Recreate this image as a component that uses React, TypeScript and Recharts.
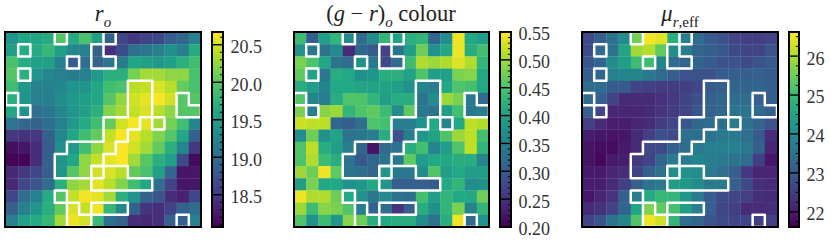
import React from 'react';
import { ScatterChart, Scatter, XAxis, YAxis, ReferenceArea, ReferenceLine } from 'recharts';

const viridis = ['#440154', '#482475', '#414487', '#355f8d', '#2a788e', '#21918c', '#22a884', '#44bf70', '#7ad151', '#bddf26', '#fde725'];

const rValues = [
  [19.40, 19.61, 19.61, 19.66, 19.97, 19.66, 19.92, 19.53, 18.88, 18.62, 18.49, 18.57, 18.62, 18.83, 18.93, 19.19],
  [19.53, 19.66, 19.66, 19.79, 19.53, 19.27, 19.19, 18.88, 18.41, 18.67, 19.01, 19.09, 19.19, 19.35, 19.19, 19.66],
  [19.92, 19.66, 19.53, 19.53, 19.19, 18.83, 19.01, 18.88, 19.09, 19.14, 19.61, 19.53, 19.45, 19.53, 19.71, 19.87],
  [19.97, 19.71, 19.40, 19.27, 19.19, 19.14, 19.19, 19.45, 19.71, 19.71, 20.13, 20.31, 20.31, 20.23, 20.23, 19.92],
  [19.87, 19.45, 19.22, 19.19, 19.27, 19.40, 19.40, 19.61, 19.87, 19.92, 20.39, 20.44, 20.52, 20.39, 20.05, 19.92],
  [19.71, 19.40, 19.19, 19.19, 19.32, 19.45, 19.53, 19.61, 19.97, 20.23, 20.49, 20.57, 20.65, 20.49, 19.97, 19.97],
  [19.61, 19.40, 19.01, 19.09, 19.27, 19.40, 19.53, 19.71, 20.18, 20.31, 20.44, 20.52, 20.39, 20.23, 19.97, 19.97],
  [19.09, 18.93, 18.88, 19.01, 19.19, 19.45, 19.66, 19.87, 20.05, 20.49, 20.65, 20.57, 20.31, 20.13, 19.87, 19.27],
  [18.49, 18.44, 18.49, 18.88, 19.27, 19.61, 19.87, 20.05, 20.44, 20.65, 20.57, 20.39, 20.18, 19.97, 19.61, 18.88],
  [18.18, 18.23, 18.41, 18.83, 19.35, 19.45, 19.87, 20.23, 20.52, 20.65, 20.49, 20.31, 20.05, 19.71, 19.27, 18.49],
  [18.10, 18.10, 18.41, 18.88, 19.40, 19.61, 20.23, 20.44, 20.57, 20.65, 20.31, 19.97, 19.71, 19.53, 18.67, 18.15],
  [18.36, 18.49, 18.62, 18.83, 19.40, 19.97, 20.23, 20.49, 20.52, 20.39, 20.05, 19.92, 19.53, 18.93, 18.23, 18.23],
  [18.36, 18.62, 18.75, 19.01, 19.71, 20.23, 20.31, 20.57, 20.39, 20.18, 19.87, 19.61, 19.01, 18.57, 18.23, 18.23],
  [18.62, 19.01, 19.19, 19.66, 19.97, 20.44, 20.62, 20.57, 20.31, 19.71, 19.40, 18.88, 18.75, 18.41, 18.31, 18.62],
  [18.88, 19.19, 19.40, 19.71, 20.05, 20.52, 20.44, 20.60, 19.79, 19.27, 18.88, 18.46, 18.41, 18.57, 18.88, 19.01],
  [19.19, 19.53, 19.66, 19.79, 20.31, 20.60, 20.49, 19.82, 19.01, 18.88, 18.41, 18.36, 18.41, 18.88, 18.88, 19.19],
];

const colourValues = [
  [0.438, 0.305, 0.393, 0.428, 0.365, 0.323, 0.368, 0.428, 0.403, 0.420, 0.428, 0.316, 0.368, 0.540, 0.410, 0.393],
  [0.375, 0.340, 0.333, 0.365, 0.242, 0.316, 0.298, 0.270, 0.333, 0.393, 0.473, 0.375, 0.410, 0.540, 0.417, 0.445],
  [0.480, 0.452, 0.410, 0.333, 0.323, 0.375, 0.340, 0.277, 0.323, 0.438, 0.508, 0.498, 0.508, 0.533, 0.508, 0.428],
  [0.463, 0.403, 0.340, 0.417, 0.410, 0.375, 0.382, 0.417, 0.420, 0.403, 0.452, 0.393, 0.393, 0.480, 0.487, 0.410],
  [0.417, 0.393, 0.358, 0.410, 0.410, 0.403, 0.403, 0.403, 0.393, 0.375, 0.358, 0.347, 0.410, 0.452, 0.445, 0.410],
  [0.452, 0.358, 0.347, 0.417, 0.452, 0.452, 0.428, 0.393, 0.417, 0.417, 0.333, 0.368, 0.498, 0.480, 0.340, 0.323],
  [0.480, 0.347, 0.487, 0.498, 0.428, 0.452, 0.463, 0.438, 0.368, 0.463, 0.340, 0.333, 0.393, 0.445, 0.340, 0.347],
  [0.522, 0.515, 0.515, 0.316, 0.305, 0.326, 0.452, 0.445, 0.347, 0.347, 0.375, 0.410, 0.358, 0.410, 0.515, 0.508],
  [0.368, 0.473, 0.375, 0.403, 0.333, 0.340, 0.347, 0.417, 0.288, 0.347, 0.382, 0.403, 0.452, 0.498, 0.515, 0.445],
  [0.452, 0.515, 0.417, 0.393, 0.347, 0.316, 0.218, 0.323, 0.333, 0.417, 0.445, 0.358, 0.393, 0.452, 0.515, 0.428],
  [0.452, 0.508, 0.438, 0.417, 0.333, 0.298, 0.316, 0.333, 0.340, 0.463, 0.393, 0.410, 0.410, 0.417, 0.417, 0.358],
  [0.498, 0.473, 0.543, 0.463, 0.333, 0.326, 0.312, 0.382, 0.340, 0.340, 0.368, 0.452, 0.393, 0.410, 0.393, 0.393],
  [0.393, 0.480, 0.410, 0.410, 0.375, 0.382, 0.410, 0.382, 0.305, 0.305, 0.305, 0.298, 0.410, 0.428, 0.368, 0.375],
  [0.540, 0.508, 0.508, 0.473, 0.410, 0.375, 0.340, 0.365, 0.333, 0.326, 0.445, 0.393, 0.428, 0.410, 0.410, 0.473],
  [0.498, 0.438, 0.487, 0.480, 0.452, 0.347, 0.312, 0.323, 0.253, 0.305, 0.417, 0.375, 0.428, 0.480, 0.358, 0.428],
  [0.452, 0.375, 0.438, 0.382, 0.487, 0.473, 0.417, 0.410, 0.417, 0.417, 0.368, 0.333, 0.417, 0.543, 0.323, 0.375],
];

const muValues = [
  [22.73, 23.13, 23.53, 24.03, 25.54, 26.55, 26.40, 24.74, 23.73, 23.38, 23.03, 22.88, 22.63, 22.53, 22.53, 22.63],
  [22.73, 23.38, 23.53, 24.54, 25.90, 26.05, 25.39, 24.03, 23.73, 23.23, 23.13, 22.98, 22.73, 22.63, 22.63, 22.88],
  [22.98, 23.23, 24.03, 24.39, 25.04, 25.04, 23.88, 23.38, 23.23, 23.23, 23.03, 22.88, 22.88, 22.73, 22.88, 23.03],
  [23.13, 23.28, 23.78, 23.88, 23.88, 23.63, 23.38, 23.13, 22.88, 22.88, 22.88, 23.03, 23.13, 23.13, 23.13, 23.03],
  [23.38, 23.38, 23.03, 23.03, 22.63, 22.53, 22.48, 22.48, 22.53, 22.63, 23.03, 23.13, 23.23, 23.23, 23.23, 23.13],
  [23.38, 23.13, 22.63, 22.22, 22.22, 22.22, 22.32, 22.42, 22.63, 22.83, 23.13, 23.28, 23.38, 23.38, 23.13, 23.13],
  [23.13, 22.63, 22.12, 22.12, 22.12, 22.22, 22.37, 22.48, 22.63, 22.93, 23.13, 23.28, 23.53, 23.53, 23.33, 23.13],
  [22.53, 22.22, 22.02, 22.02, 22.12, 22.22, 22.48, 22.63, 22.98, 23.28, 23.38, 23.43, 23.63, 23.43, 23.23, 22.88],
  [22.02, 21.92, 21.87, 21.92, 22.22, 22.53, 22.83, 22.73, 23.43, 23.43, 23.53, 23.63, 23.63, 23.43, 23.03, 22.27],
  [21.87, 21.77, 21.77, 21.97, 22.22, 22.73, 22.73, 23.13, 23.38, 23.63, 23.78, 23.78, 23.78, 23.63, 23.13, 22.12],
  [21.87, 21.72, 21.97, 22.02, 22.42, 22.63, 23.23, 23.63, 23.73, 23.88, 23.73, 23.63, 23.53, 23.38, 22.53, 21.92],
  [21.97, 21.97, 22.12, 22.22, 22.63, 23.13, 23.43, 24.03, 24.14, 24.03, 23.63, 23.43, 23.13, 22.42, 22.12, 22.12],
  [22.02, 22.02, 22.22, 22.53, 23.13, 23.53, 23.63, 24.39, 24.24, 24.03, 23.63, 23.63, 23.13, 22.73, 22.27, 22.22],
  [21.92, 22.12, 22.37, 23.13, 23.73, 24.64, 24.94, 24.89, 24.24, 23.63, 23.13, 22.73, 22.63, 22.53, 22.27, 22.22],
  [22.22, 22.32, 22.63, 23.23, 24.54, 25.64, 25.39, 25.14, 24.39, 23.73, 23.13, 22.63, 22.53, 22.22, 22.22, 22.27],
  [22.63, 22.88, 23.53, 23.88, 25.24, 26.50, 26.25, 24.89, 23.43, 23.28, 22.93, 22.73, 22.63, 22.63, 22.53, 22.53],
];

// outlined regions, in grid corners
const outlines = [
  [[4, 0], [5, 0], [5, 1], [4, 1], [4, 0]],
  [[8, 0], [9, 0], [9, 1], [8, 1], [8, 0]],
  [[1, 1], [2, 1], [2, 2], [1, 2], [1, 1]],
  [[7, 1], [8, 1], [8, 2], [9, 2], [9, 3], [7, 3], [7, 1]],
  [[5, 2], [6, 2], [6, 3], [5, 3], [5, 2]],
  [[1, 3], [2, 3], [2, 4], [1, 4], [1, 3]],
  [[0, 5], [1, 5], [1, 6], [0, 6], [0, 5]],
  [[1, 6], [2, 6], [2, 7], [1, 7], [1, 6]],
  [[14, 5], [15, 5], [15, 6], [16, 6], [16, 7], [14, 7], [14, 5]],
  [[14, 15], [15, 15], [15, 16], [14, 16], [14, 15]],
  [[12, 7], [13, 7], [13, 8], [12, 8], [12, 7]],
  [[10, 4], [12, 4], [12, 7], [11, 7], [11, 8], [10, 8], [10, 9], [9, 9], [9, 10], [8, 10], [8, 11], [7, 11], [7, 12], [4, 12], [4, 10], [5, 10], [5, 9], [8, 9], [8, 7], [10, 7], [10, 4]],
  [[7, 11], [10, 11], [10, 12], [12, 12], [12, 13], [7, 13], [7, 12], [8, 12], [8, 11]],
  [[4, 13], [5, 13], [5, 14], [4, 14], [4, 13]],
  [[5, 14], [6, 14], [6, 15], [7, 15], [7, 16], [5, 16], [5, 14]],
  [[7, 14], [10, 14], [10, 15], [7, 15], [7, 14]],
];

const rDomain = [18.07, 20.67];
const colourDomain = [0.2, 0.55];
const muDomain = [21.61, 26.62];
const rTicks = [18.5, 19, 19.5, 20, 20.5];
const colourTicks = [0.2, 0.25, 0.3, 0.35, 0.4, 0.45, 0.5, 0.55];
const muTicks = [22, 23, 24, 25, 26];
const rMinor = [18.1, 18.2, 18.3, 18.4, 18.6, 18.7, 18.8, 18.9, 19.1, 19.2, 19.3, 19.4, 19.6, 19.7, 19.8, 19.9, 20.1, 20.2, 20.3, 20.4, 20.6];
const colourMinor = [0.21, 0.22, 0.23, 0.24, 0.26, 0.27, 0.28, 0.29, 0.31, 0.32, 0.33, 0.34, 0.36, 0.37, 0.38, 0.39, 0.41, 0.42, 0.43, 0.44, 0.46, 0.47, 0.48, 0.49, 0.51, 0.52, 0.53, 0.54];
const muMinor = [21.75, 22.25, 22.5, 22.75, 23.25, 23.5, 23.75, 24.25, 24.5, 24.75, 25.25, 25.5, 25.75, 26.25, 26.5];

const SIZE = 195;
const PAD = 3;
const CELL = SIZE / 16;
const FRAME = 2.6;
const BAR_WIDTH = 10;
const SERIF = '"Liberation Serif", serif';

const mix = (a: string, b: string, f: number) => {
  const ch = (s: string, i: number) => parseInt(s.slice(1 + i * 2, 3 + i * 2), 16);
  const out = [0, 1, 2].map((i) => Math.round(ch(a, i) + (ch(b, i) - ch(a, i)) * f));
  return `rgb(${out.join(',')})`;
};

const colorAt = (t: number) => {
  const p = Math.max(0, Math.min(0.9999, t)) * (viridis.length - 1);
  const i = Math.floor(p);
  return mix(viridis[i], viridis[i + 1], p - i);
};

// black border drawn above a plot area
const Frame = ({ left, width }: { left: number; width: number }) => (
  <div
    style={{
      position: 'absolute',
      left: left - FRAME / 2,
      top: 32 - FRAME / 2,
      width: width + FRAME,
      height: SIZE + FRAME,
      boxSizing: 'border-box',
      border: `${FRAME}px solid #000`,
    }}
  />
);

function Heatmap({ left, values, domain }: { left: number; values: number[][]; domain: number[] }) {
  const cells = values.flatMap((row, r) => row.map((value, c) => ({ x: c + 0.5, y: r + 0.5, value })));
  return (
    <>
      <div style={{ position: 'absolute', left: left - PAD, top: 32 - PAD }}>
        <ScatterChart width={SIZE + PAD * 2} height={SIZE + PAD * 2} margin={{ top: PAD, right: PAD, bottom: PAD, left: PAD }}>
          <XAxis type="number" dataKey="x" domain={[0, 16]} hide allowDataOverflow />
          <YAxis type="number" dataKey="y" domain={[0, 16]} hide reversed allowDataOverflow />
          <Scatter
            data={cells}
            isAnimationActive={false}
            shape={(p: any) => (
              <rect
                x={p.cx - CELL / 2}
                y={p.cy - CELL / 2}
                width={CELL + 0.3}
                height={CELL + 0.3}
                fill={colorAt((p.payload.value - domain[0]) / (domain[1] - domain[0]))}
              />
            )}
          />
          {outlines.map((o, i) => (
            <Scatter
              key={i}
              data={o.map(([x, y]) => ({ x, y }))}
              isAnimationActive={false}
              line={{ stroke: '#fff', strokeWidth: 2.5, strokeLinejoin: 'round', strokeLinecap: 'round' }}
              shape={() => <g />}
            />
          ))}
        </ScatterChart>
      </div>
      <Frame left={left} width={SIZE} />
    </>
  );
}

function Colorbar({ id, left, domain, ticks, minor, digits }: { id: string; left: number; domain: number[]; ticks: number[]; minor: number[]; digits: number }) {
  const m = 12;
  return (
    <>
      <div style={{ position: 'absolute', left: left - 2, top: 32 - m }}>
        <ScatterChart width={70} height={SIZE + m * 2} margin={{ top: m, right: 0, bottom: m, left: 2 }}>
          <defs>
            <linearGradient id={id} x1="0" y1="1" x2="0" y2="0">
              {viridis.map((c, i) => (
                <stop key={c} offset={i / (viridis.length - 1)} stopColor={c} />
              ))}
            </linearGradient>
          </defs>
          <XAxis type="number" dataKey="x" domain={[0, 1]} hide allowDataOverflow />
          <YAxis
            type="number"
            dataKey="y"
            orientation="right"
            width={70 - 2 - BAR_WIDTH}
            domain={domain}
            ticks={ticks}
            interval={0}
            allowDataOverflow
            axisLine={false}
            tickLine={false}
            tickMargin={1.5}
            tickFormatter={(v: number) => v.toFixed(digits)}
            tick={{ fontFamily: SERIF, fontSize: 18, fill: '#333', dy: 2 }}
          />
          <Scatter data={[{ x: 0, y: domain[0] }]} isAnimationActive={false} shape={() => <g />} />
          <ReferenceArea x1={0} x2={1} y1={domain[0]} y2={domain[1]} fill={`url(#${id})`} fillOpacity={1} stroke="none" />
          {minor.map((v) => (
            <ReferenceLine key={v} segment={[{ x: 0.68, y: v }, { x: 1, y: v }]} stroke="#000" strokeWidth={1} />
          ))}
          {ticks.map((v) => (
            <ReferenceLine key={v} segment={[{ x: 0, y: v }, { x: 1, y: v }]} stroke="#000" strokeWidth={1.4} />
          ))}
        </ScatterChart>
      </div>
      <Frame left={left} width={BAR_WIDTH} />
    </>
  );
}

const titleStyle: React.CSSProperties = {
  position: 'absolute',
  top: 1,
  width: 200,
  textAlign: 'center',
  fontFamily: SERIF,
  fontSize: 22.5,
  lineHeight: '26px',
  color: '#222',
  whiteSpace: 'nowrap',
};

const Sub = ({ children }: { children: React.ReactNode }) => (
  <sub style={{ fontSize: 15, lineHeight: 0 }}>{children}</sub>
);

export default function App() {
  return (
    <div style={{ position: 'fixed', left: 0, top: 0, width: 831, height: 244, background: '#fff', overflow: 'hidden' }}>
      <div style={{ ...titleStyle, left: 3 }}>
        <i>r</i>
        <Sub><i>o</i></Sub>
      </div>
      <div style={{ ...titleStyle, left: 291 }}>
        (<i>g</i> − <i>r</i>)<Sub><i>o</i></Sub> colour
      </div>
      <div style={{ ...titleStyle, left: 580 }}>
        <i>μ</i>
        <Sub><i>r</i>,eff</Sub>
      </div>

      <Heatmap left={5.5} values={rValues} domain={rDomain} />
      <Heatmap left={294} values={colourValues} domain={colourDomain} />
      <Heatmap left={582.3} values={muValues} domain={muDomain} />

      <Colorbar id="barR" left={212.5} domain={rDomain} ticks={rTicks} minor={rMinor} digits={1} />
      <Colorbar id="barC" left={500.5} domain={colourDomain} ticks={colourTicks} minor={colourMinor} digits={2} />
      <Colorbar id="barM" left={789} domain={muDomain} ticks={muTicks} minor={muMinor} digits={0} />
    </div>
  );
}
